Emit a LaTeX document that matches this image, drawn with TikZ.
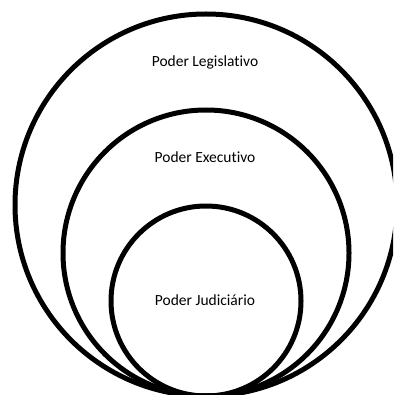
\documentclass[tikz,border=0pt]{standalone}
\usepackage{fontspec}
\setmainfont[Ligatures={NoCommon}]{Carlito}
\begin{document}
\begin{tikzpicture}[x=1pt,y=-1pt,
  ring/.style={draw=black,line width=5pt},
  lbl/.style={font=\fontsize{15.5}{18}\selectfont,inner sep=0pt,anchor=center}]
\useasboundingbox (0,0) rectangle (393,395);
\begin{scope}
\clip (0,0) rectangle (393,395);
\draw[ring] (206,205) circle[radius=191];
\draw[ring] (206,253) circle[radius=143];
\draw[ring] (206,301) circle[radius=95];
\end{scope}
\node[lbl] (leg) at (205,62) {Poder Legislativo};
\node[lbl] (exe) at (205,157) {Poder Executivo};
\node[lbl] (jud) at (205,300) {Poder Judiciário};
\end{tikzpicture}
\end{document}
